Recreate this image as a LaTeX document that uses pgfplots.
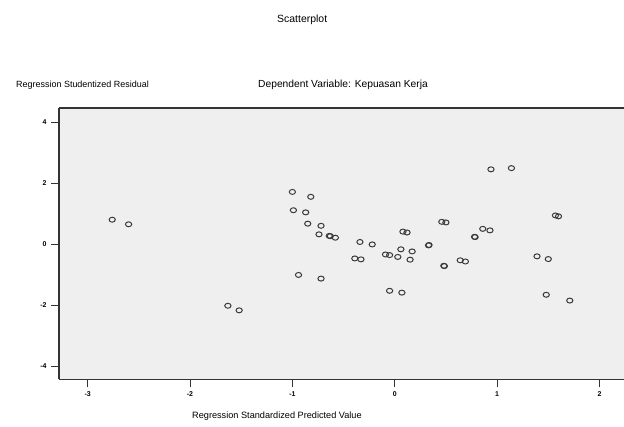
\documentclass[border=0pt]{standalone}
\usepackage{pgfplots}
\pgfplotsset{compat=1.18}
\usepackage{fontspec}
\setmainfont{Liberation Sans}
\definecolor{bgc}{HTML}{EFEFEF}
\definecolor{axc}{HTML}{333333}
\definecolor{mkc}{HTML}{3A3A3A}
\begin{document}
\begin{tikzpicture}[x=1bp,y=1bp]
\useasboundingbox (0,0) rectangle (624,426);
\begin{axis}[
  at={(59bp,46.7bp)}, anchor=south west,
  scale only axis, width=565bp, height=271.3bp,
  xmin=-3.28, xmax=2.24, ymin=-4.43, ymax=4.46,
  axis x line*=box, axis y line*=left,
  axis line style={axc, line width=1.3pt},
  axis background/.style={fill=bgc},
  xtick={-3,-2,-1,0,1,2}, ytick={-4,-2,0,2,4},
  xtick pos=bottom, ytick pos=left,
  tick align=outside, major tick length=8bp,
  tick style={axc, line width=1pt},
  /pgf/number format/assume math mode=true,
  ticklabel style={font=\fontsize{7}{8}\selectfont\bfseries},
  xticklabel style={yshift=-1bp},
  yticklabel style={xshift=-1bp},
  clip=false,
]
\addplot[only marks, mark=o, mark size=2.5pt, mark options={xscale=1.25, draw=mkc, line width=1pt}] coordinates {
(-2.76,0.80) (-2.60,0.65)
(-1.00,1.71) (-0.82,1.55) (-0.99,1.11) (-0.87,1.04) (-0.85,0.67)
(-0.72,0.60) (-0.74,0.32) (-0.64,0.27) (-0.63,0.26) (-0.58,0.21)
(-0.34,0.07) (-0.22,-0.01) (-0.39,-0.47) (-0.33,-0.50)
(-0.09,-0.34) (-0.05,-0.36) (0.03,-0.42) (0.06,-0.17) (0.17,-0.24) (0.15,-0.51)
(0.08,0.41) (0.12,0.38)
(0.33,-0.04) (0.335,-0.03) (0.48,-0.71) (0.485,-0.72)
(0.46,0.73) (0.50,0.71) (0.64,-0.53) (0.69,-0.57)
(0.78,0.24) (0.785,0.23) (0.86,0.50) (0.93,0.45)
(0.94,2.45) (1.14,2.49)
(1.57,0.94) (1.60,0.91) (1.39,-0.40) (1.50,-0.49)
(-1.63,-2.02) (-1.52,-2.17) (-0.94,-1.01) (-0.72,-1.13)
(-0.05,-1.53) (0.07,-1.59) (1.48,-1.66) (1.71,-1.85)
};
\end{axis}
\node[font=\fontsize{10.5}{12}\selectfont, inner sep=0, anchor=west] at (277,406) {Scatterplot};
\node[font=\fontsize{9}{10}\selectfont, inner sep=0, anchor=west] at (16,341) {Regression Studentized Residual};
\node[font=\fontsize{10.3}{12}\selectfont, inner sep=0, anchor=west] at (258,341) {Dependent Variable: Kepuasan Kerja};
\node[font=\fontsize{9.2}{10}\selectfont, inner sep=0, anchor=west] at (192,10) {Regression Standardized Predicted Value};
\end{tikzpicture}
\end{document}
